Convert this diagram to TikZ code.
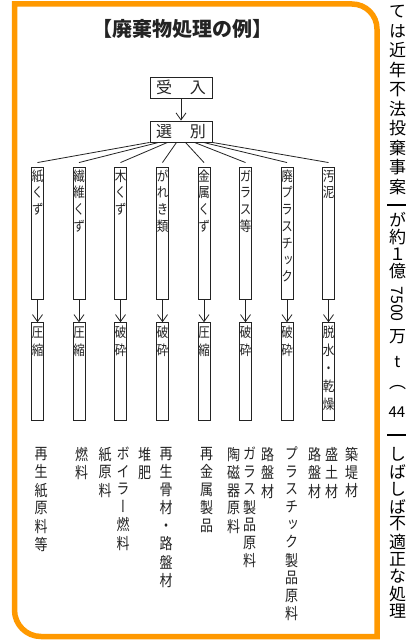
\documentclass[tikz,border=0pt]{standalone}
\usepackage{fontspec}
\newfontfamily\jp{Noto Sans CJK JP}
\newfontfamily\vjp[RawFeature=+vert]{Noto Sans CJK JP}
\usetikzlibrary{arrows.meta,calc}
\newcommand\vstk[2][1.2]{\scalebox{1}[#1]{\begin{tabular}{@{}c@{}}#2\end{tabular}}}
\definecolor{frameorange}{RGB}{255,153,0}
\definecolor{ink}{RGB}{35,35,35}
\begin{document}
\begin{tikzpicture}[x=1bp,y=-1bp,
  box/.style={draw=ink, line width=0.9bp, inner sep=0pt, minimum width=12bp},
  colbox/.style={box, minimum height=132bp},
  procbox/.style={box, minimum height=98bp},
  coltext/.style={anchor=north, inner sep=0pt, text=ink, font=\vjp\fontsize{11.5bp}{14bp}\selectfont},
  proctext/.style={anchor=north, inner sep=0pt, text=ink, font=\vjp\fontsize{11.5bp}{15bp}\selectfont},
  outtext/.style={anchor=north, inner sep=0pt, text=ink, font=\vjp\fontsize{13bp}{14.6bp}\selectfont},
  topbox/.style={box, minimum width=62bp, minimum height=21bp, font=\jp\fontsize{16bp}{16bp}\selectfont, text=ink},
  link/.style={draw=ink, line width=0.8bp},
  arr/.style={link, -{Straight Barb[length=7bp,width=10bp]}},
  rt/.style={inner sep=0pt, text=black, font=\vjp\fontsize{17bp}{17bp}\selectfont},
  rule/.style={draw=black, line width=1.8bp},
  frame/.style={draw=frameorange, line width=5.5bp}]
\useasboundingbox (0,0) rectangle (406,642);
\fill[white] (0,0) rectangle (406,642);

% orange frame
\draw[frame] (14.5,4) -- (352,4) arc[start angle=-90, end angle=0, radius=25] -- (377,636.5)
  -- (41,636.5) arc[start angle=90, end angle=180, radius=26.5] -- cycle;

% title
\node[inner sep=0pt, text=ink, font=\jp\bfseries\fontsize{20bp}{20bp}\selectfont] (title) at (182,28.5) {【廃棄物処理の例】};

% top boxes
\node[topbox] (uke) at (181,87.5) {受\hspace{18bp}入};
\node[topbox] (sen) at (181,131.5) {選\hspace{18bp}別};
\draw[arr] (uke) -- (sen);

% category columns
\node[colbox] (col1) at (37.5,233) {};
\node[colbox] (col2) at (79,233) {};
\node[colbox] (col3) at (120.5,233) {};
\node[colbox] (col4) at (162.5,233) {};
\node[colbox] (col5) at (204,233) {};
\node[colbox] (col6) at (245.5,233) {};
\node[colbox] (col7) at (287,233) {};
\node[colbox] (col8) at (328.5,233) {};

\node[coltext] (c1t) at ($(col1.north)+(0,2.5)$) {\vstk{紙\\く\\ず}};
\node[coltext] (c2t) at ($(col2.north)+(0,2.5)$) {\vstk{繊\\維\\く\\ず}};
\node[coltext] (c3t) at ($(col3.north)+(0,2.5)$) {\vstk{木\\く\\ず}};
\node[coltext] (c4t) at ($(col4.north)+(0,2.5)$) {\vstk{が\\れ\\き\\類}};
\node[coltext] (c5t) at ($(col5.north)+(0,2.5)$) {\vstk{金\\属\\く\\ず}};
\node[coltext] (c6t) at ($(col6.north)+(0,2.5)$) {\vstk{ガ\\ラ\\ス\\等}};
\node[coltext] (c7t) at ($(col7.north)+(0,2.5)$) {\vstk{廃\\プ\\ラ\\ス\\チ\\ッ\\ク}};
\node[coltext] (c8t) at ($(col8.north)+(0,2.5)$) {\vstk{汚\\泥}};

% process boxes
\node[procbox] (p1) at (37.5,371.7) {};
\node[procbox] (p2) at (79,371.7) {};
\node[procbox] (p3) at (120.5,371.7) {};
\node[procbox] (p4) at (162.5,371.7) {};
\node[procbox] (p5) at (204,371.7) {};
\node[procbox] (p6) at (245.5,371.7) {};
\node[procbox] (p7) at (287,371.7) {};
\node[procbox] (p8) at (328.5,371.7) {};

\node[proctext] (p1t) at ($(p1.north)+(0,2.5)$) {\vstk{圧\\縮}};
\node[proctext] (p2t) at ($(p2.north)+(0,2.5)$) {\vstk{圧\\縮}};
\node[proctext] (p3t) at ($(p3.north)+(0,2.5)$) {\vstk{破\\砕}};
\node[proctext] (p4t) at ($(p4.north)+(0,2.5)$) {\vstk{破\\砕}};
\node[proctext] (p5t) at ($(p5.north)+(0,2.5)$) {\vstk{圧\\縮}};
\node[proctext] (p6t) at ($(p6.north)+(0,2.5)$) {\vstk{破\\砕}};
\node[proctext] (p7t) at ($(p7.north)+(0,2.5)$) {\vstk{破\\砕}};
\node[proctext] (p8t) at ($(p8.north)+(0,2.5)$) {\vstk{脱\\水\\・\\乾\\燥}};

% fan from 選別 to columns, arrows to process boxes
\foreach \i in {1,...,8}{
  \draw[link] ($(sen.south west)!{(\i-1)/7}!(sen.south east)$) -- ($(col\i.north)+(0,-4)$);
  \draw[arr] (col\i) -- (p\i);
}

% outputs
\node[outtext] (o1) at (41,447) {\vstk{再\\生\\紙\\原\\料\\等}};
\node[outtext] (o2) at (81.5,447) {\vstk{燃\\料}};
\node[outtext] (o3) at (105,447) {\vstk{紙\\原\\料}};
\node[outtext] (o4) at (123,447) {\vstk{ボ\\イ\\ラ\\ー\\燃\\料}};
\node[outtext] (o5) at (144.5,447) {\vstk{堆\\肥}};
\node[outtext] (o6) at (166,447) {\vstk{再\\生\\骨\\材\\・\\路\\盤\\材}};
\node[outtext] (o7) at (206.5,447) {\vstk{再\\金\\属\\製\\品}};
\node[outtext] (o8) at (233.5,447) {\vstk{陶\\磁\\器\\原\\料}};
\node[outtext] (o9) at (249.5,447) {\vstk{ガ\\ラ\\ス\\製\\品\\原\\料}};
\node[outtext] (o10) at (267.5,447) {\vstk{路\\盤\\材}};
\node[outtext] (o11) at (291.5,447) {\vstk{プ\\ラ\\ス\\チ\\ッ\\ク\\製\\品\\原\\料}};
\node[outtext] (o12) at (314.5,447) {\vstk{路\\盤\\材}};
\node[outtext] (o13) at (331.5,447) {\vstk{盛\\土\\材}};
\node[outtext] (o14) at (351.5,447) {\vstk{築\\堤\\材}};

% neighbouring page text at the right edge
\foreach \c [count=\i] in {て,は,近,年,不,法,投,棄,事,案}
  \node[rt] (ra\i) at (397.5,{11.5+(\i-1)*19.5}) {\c};
\draw[rule] (387,205) -- (406,205);
\node[rt] (rb1) at (397.5,220) {が};
\node[rt] (rb2) at (397.5,237.5) {約};
\node[rt] (rb3) at (397.5,254) {１};
\node[rt] (rb4) at (397.5,271.5) {億};
\node[rt, rotate=-90, font=\jp\fontsize{16bp}{16bp}\selectfont] (rb5) at (397.5,304) {7500};
\node[rt] (rb6) at (397.5,336.5) {万};
\node[rt, font=\jp\fontsize{16bp}{16bp}\selectfont] (rb7) at (397.5,362) {t};
\node[rt] (rb8) at (397.5,388) {（};
\node[rt, anchor=east, font=\jp\fontsize{15bp}{15bp}\selectfont] (rb9) at (405.5,412) {44};
\draw[rule] (387,435) -- (406,435);
\foreach \c [count=\i] in {し,ば,し,ば,不,適,正,な,処,理}
  \node[rt] (rc\i) at (397.5,{454+(\i-1)*17.5}) {\c};
\end{tikzpicture}
\end{document}
